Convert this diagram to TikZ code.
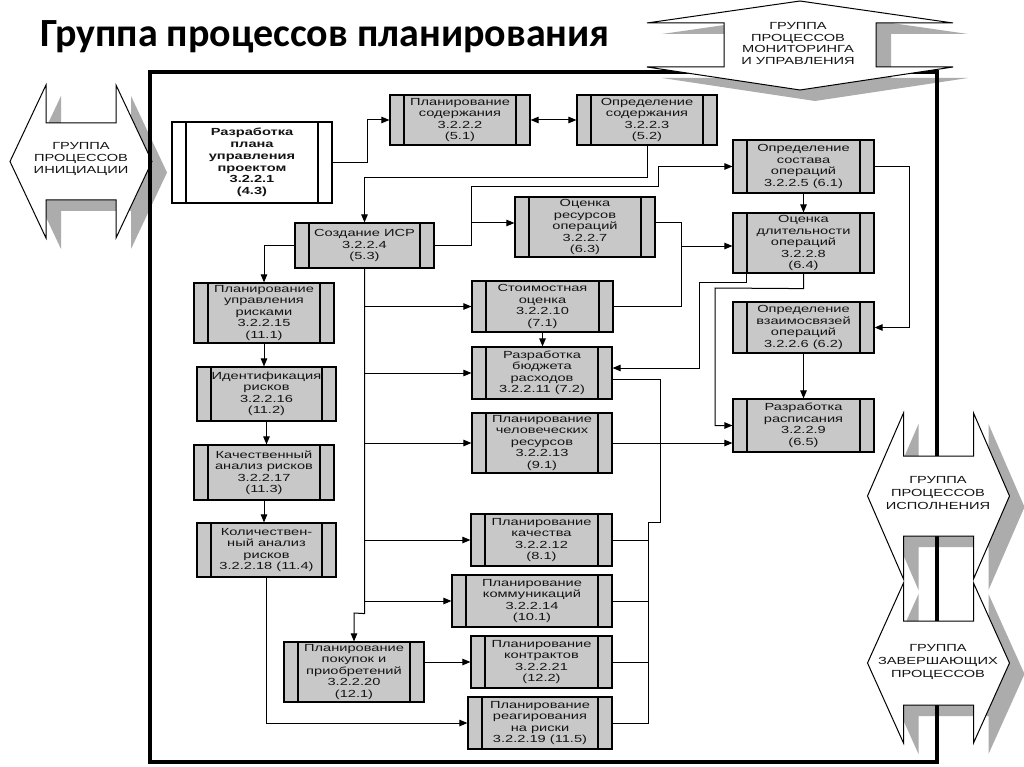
\documentclass[tikz,border=0pt]{standalone}
\usepackage{fontspec}
\usetikzlibrary{arrows.meta,calc}
\newfontfamily\boxfont[FakeStretch=1.42]{Liberation Sans}
\newfontfamily\titlefont{Carlito}
\definecolor{boxgray}{RGB}{200,200,200}
\definecolor{shadowgray}{RGB}{172,172,172}
\definecolor{txt}{RGB}{20,20,20}
\tikzset{
 pbox/.style={draw, fill=boxgray, line width=1.2pt, inner sep=0pt, align=center, text=txt,
   font=\boxfont\fontsize{10.3}{11.5}\selectfont,
   path picture={\draw[line width=1.2pt] ([xshift=14pt]path picture bounding box.south west) -- ([xshift=14pt]path picture bounding box.north west);
     \draw[line width=1.2pt] ([xshift=-14pt]path picture bounding box.south east) -- ([xshift=-14pt]path picture bounding box.north east);}},
 conn/.style={line width=1pt, draw=black},
 arr/.style={conn, -{Triangle[length=8pt,width=6.5pt]}},
 arrboth/.style={conn, {Triangle[length=8pt,width=6.5pt]}-{Triangle[length=8pt,width=6.5pt]}},
 grp/.style={draw=black, line width=1pt, fill=white},
 shad/.style={fill=shadowgray},
 grptext/.style={align=center, font=\boxfont\fontsize{10.3}{11.6}\selectfont, text=txt, inner sep=0pt}
}
\newcommand\pbox[7][]{\node[pbox,minimum width={#5-#3},minimum height={#6-#4},#1] (#2) at ({(#3+#5)/2},{(#4+#6)/2}) {#7};}
\newcommand\hdshape[3]{\path[#1] (-71,0) -- (-35,-#2) -- (-35,-#3) -- (35,-#3) -- (35,-#2) -- (71,0) -- (35,#2) -- (35,#3) -- (-35,#3) -- (-35,#2) -- cycle;}
\newcommand\vdshape[1]{\path[#1] (0,-44) -- (153,-22) -- (76,-22) -- (76,22) -- (153,22) -- (0,45) -- (-153,22) -- (-76,22) -- (-76,-22) -- (-153,-22) -- cycle;}
\begin{document}
\begin{tikzpicture}[x=1pt,y=-1pt]
\useasboundingbox (0,0) rectangle (1024,767);
\fill[white] (0,0) rectangle (1024,767);
% title
\node[anchor=base west, inner sep=0pt, font=\titlefont\bfseries\fontsize{40}{48}\selectfont] (title) at (40,47) {Группа процессов планирования};
% shadows of group arrows
\hdshape{shad, shift={(96,172.5)}}{76.5}{38.5}
\hdshape{shad, shift={(953.5,507)}}{83}{40}
\hdshape{shad, shift={(953.5,674)}}{80}{42}
\vdshape{shad, shift={(815,56)}}
% initiation arrow
\hdshape{grp, shift={(81,161.5)}}{76.5}{38.5}
\node[grptext] (gi) at (81,159) {ГРУППА\\ПРОЦЕССОВ\\ИНИЦИАЦИИ};
% frame
\draw[line width=4pt] (150,72) rectangle (937,762);
% other group arrows
\vdshape{grp, shift={(800,45)}}
\node[grptext] (gm) at (798,43.5) {ГРУППА\\ПРОЦЕССОВ\\МОНИТОРИНГА\\И УПРАВЛЕНИЯ};
\hdshape{grp, shift={(938.5,496)}}{83}{40}
\node[grptext, font=\boxfont\fontsize{10.3}{12.6}\selectfont] (ge) at (938,493) {ГРУППА\\ПРОЦЕССОВ\\ИСПОЛНЕНИЯ};
\hdshape{grp, shift={(938.5,663)}}{80}{42}
\node[grptext, font=\boxfont\fontsize{10.3}{12.6}\selectfont] (gc) at (938,662) {ГРУППА\\ЗАВЕРШАЮЩИХ\\ПРОЦЕССОВ};
% boxes
\pbox[fill=white, line width=2pt, font=\boxfont\bfseries\fontsize{10.3}{11.8}\selectfont]{b1}{172}{122}{332}{203}{Разработка\\плана\\управления\\проектом\\3.2.2.1\\(4.3)}
\pbox{b2}{390}{95}{530}{145}{Планирование\\содержания\\3.2.2.2\\(5.1)}
\pbox{b3}{577}{95}{717}{145}{Определение\\содержания\\3.2.2.3\\(5.2)}
\pbox{b4}{295}{223}{434}{268}{Создание ИСР\\3.2.2.4\\(5.3)}
\pbox{b5}{733}{140}{874}{193}{Определение\\состава\\операций\\3.2.2.5 (6.1)}
\pbox{b7}{515}{197}{655}{257}{Оценка\\ресурсов\\операций\\3.2.2.7\\(6.3)}
\pbox{b8}{733}{213}{874}{273}{Оценка\\длительности\\операций\\3.2.2.8\\(6.4)}
\pbox{b6}{733}{302}{874}{353}{Определение\\взаимосвязей\\операций\\3.2.2.6 (6.2)}
\pbox{b9}{733}{399}{874}{452}{Разработка\\расписания\\3.2.2.9\\(6.5)}
\pbox{b10}{472}{281}{613}{332}{Стоимостная\\оценка\\3.2.2.10\\(7.1)}
\pbox{b11}{472}{347}{612}{399}{Разработка\\бюджета\\расходов\\3.2.2.11 (7.2)}
\pbox{b13}{472}{413}{612}{473}{Планирование\\человеческих\\ресурсов\\3.2.2.13\\(9.1)}
\pbox{b12}{471}{514}{612}{566}{Планирование\\качества\\3.2.2.12\\(8.1)}
\pbox{b14}{452}{575}{612}{627}{Планирование\\коммуникаций\\3.2.2.14\\(10.1)}
\pbox{b21}{471}{636}{612}{688}{Планирование\\контрактов\\3.2.2.21\\(12.2)}
\pbox{b19}{468}{697}{612}{749}{Планирование\\реагирования\\на риски\\3.2.2.19 (11.5)}
\pbox{b20}{284}{642}{424}{702}{Планирование\\покупок и\\приобретений\\3.2.2.20\\(12.1)}
\pbox{b15}{194}{283}{334}{343}{Планирование\\управления\\рисками\\3.2.2.15\\(11.1)}
\pbox{b16}{197}{367}{336}{421}{Идентификация\\рисков\\3.2.2.16\\(11.2)}
\pbox{b17}{194}{445}{334}{500}{Качественный\\анализ рисков\\3.2.2.17\\(11.3)}
\pbox{b18}{197}{523}{336}{577}{Количествен-\\ный анализ\\рисков\\3.2.2.18 (11.4)}
% connectors
\draw[arr] (b1.east) -- (367,162.5) |- (b2.west);
\draw[arrboth] (b2.east) -- (b3.west);
\draw[arr] (b3.south) -- ++(0,32) -| (b4.north);
\coordinate (s7) at (471,223);
\draw[arr] (b4.east) -- (471,245.5) -- (471,187) -- (658,187) |- (b5.west);
\draw[arr] (s7) -- (s7 -| b7.west);
\draw[arr] (b5.south) -- (b8.north);
\draw[arr] (b5.east) -- (909,166.5) |- (b6.east);
\coordinate (m8) at (681,246);
\draw[conn] (b7.east |- s7) -- (681,223) |- (b10.east);
\draw[arr] (m8) -- (m8 -| b8.west);
\coordinate (e11) at (699,368);
\draw[arr] ([xshift=14pt]b8.south west) -- ++(0,9) -| (e11) -- (e11 -| b11.east);
\draw[arr] (b8.south) -- ++(0,15) -- (715,288) |- (b9.west);
\draw[arr] (b6.south) -- (b9.north);
\draw[arr] (b13.east) -- (b13.east -| b9.west);
\draw[arr] (b10.south) -- (b10.south |- b11.north);
\coordinate (o11) at (612,379);
\coordinate (bus) at (648,600);
\draw[conn] (b11.east |- o11) -- (660,379) -- (660,522) -- (648,522) |- (b19.east);
\foreach \n in {b12,b14,b21}{\draw[conn] (\n.east) -- (\n.east -| bus);}
\coordinate (tr) at (364.5,300);
\draw[arr] (b4.south) -- ++(0,345) -- (354,613) -- (b20.north);
\foreach \n in {b10,b11,b13,b12,b14}{\draw[arr] (tr |- \n.west) -- (\n.west);}
\draw[arr] (b4.west) -| (b15.north);
\draw[arr] (b15.south) -- (b15.south |- b16.north);
\draw[arr] (b16.south) -- (b16.south |- b17.north);
\draw[arr] (b17.south) -- (b17.south |- b18.north);
\draw[arr] (b18.south) |- (b19.west);
\draw[arr] (b20.east |- b21.west) -- (b21.west);
\end{tikzpicture}
\end{document}
